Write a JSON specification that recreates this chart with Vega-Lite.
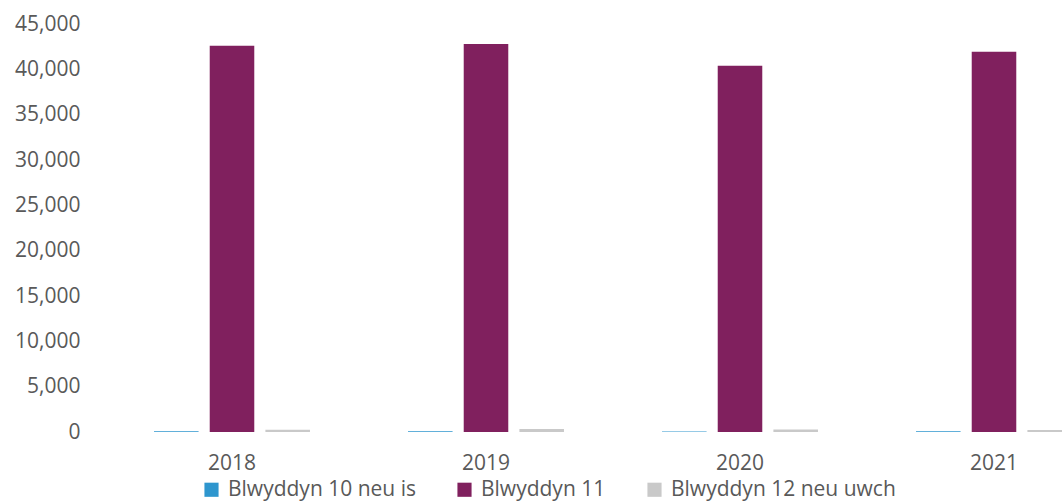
{
  "$schema": "https://vega.github.io/schema/vega-lite/v6.json",
  "autosize": "none",
  "width": 1016,
  "height": 408,
  "padding": {"left": 105, "top": 24, "right": 0, "bottom": 71},
  "background": "white",
  "data": {
    "values": [
      {"year": "2018", "series": "Blwyddyn 10 neu is", "value": 80},
      {"year": "2018", "series": "Blwyddyn 11", "value": 42600},
      {"year": "2018", "series": "Blwyddyn 12 neu uwch", "value": 250},
      {"year": "2019", "series": "Blwyddyn 10 neu is", "value": 70},
      {"year": "2019", "series": "Blwyddyn 11", "value": 42800},
      {"year": "2019", "series": "Blwyddyn 12 neu uwch", "value": 330},
      {"year": "2020", "series": "Blwyddyn 10 neu is", "value": 60},
      {"year": "2020", "series": "Blwyddyn 11", "value": 40400},
      {"year": "2020", "series": "Blwyddyn 12 neu uwch", "value": 280},
      {"year": "2021", "series": "Blwyddyn 10 neu is", "value": 90},
      {"year": "2021", "series": "Blwyddyn 11", "value": 41950},
      {"year": "2021", "series": "Blwyddyn 12 neu uwch", "value": 220}
    ]
  },
  "config": {
    "view": {"stroke": null},
    "font": "Open Sans"
  },
  "mark": {"type": "bar"},
  "encoding": {
    "x": {
      "field": "year", "type": "nominal",
      "scale": {"paddingInner": 0.386, "paddingOuter": 0.193},
      "axis": {"title": null, "labelAngle": 0, "domain": false, "ticks": false, "labelPadding": 20, "labelFontSize": 21, "labelColor": "#595959", "labelFont": "Open Sans"}
    },
    "xOffset": {
      "field": "series", "type": "nominal",
      "sort": ["Blwyddyn 10 neu is", "Blwyddyn 11", "Blwyddyn 12 neu uwch"],
      "scale": {"paddingInner": 0.2, "paddingOuter": 0}
    },
    "y": {
      "field": "value", "type": "quantitative",
      "scale": {"domain": [0, 45000], "nice": false},
      "axis": {"title": null, "grid": false, "domain": false, "ticks": false, "labelOverlap": false, "values": [0,5000,10000,15000,20000,25000,30000,35000,40000,45000], "format": ",.0f", "labelPadding": 25, "labelFontSize": 21, "labelColor": "#595959", "labelFont": "Open Sans"}
    },
    "color": {
      "field": "series", "type": "nominal",
      "sort": ["Blwyddyn 10 neu is", "Blwyddyn 11", "Blwyddyn 12 neu uwch"],
      "scale": {"range": ["#2E96CE", "#80205E", "#C9C9C9"]},
      "legend": {
        "title": null, "orient": "none", "direction": "horizontal",
        "legendX": 96, "legendY": 455,
        "symbolType": "square", "symbolSize": 200, "symbolStrokeWidth": 0,
        "labelFontSize": 21, "labelColor": "#595959", "labelFont": "Open Sans", "labelLimit": 0,
        "columnPadding": 38, "labelOffset": 6
      }
    }
  }
}
